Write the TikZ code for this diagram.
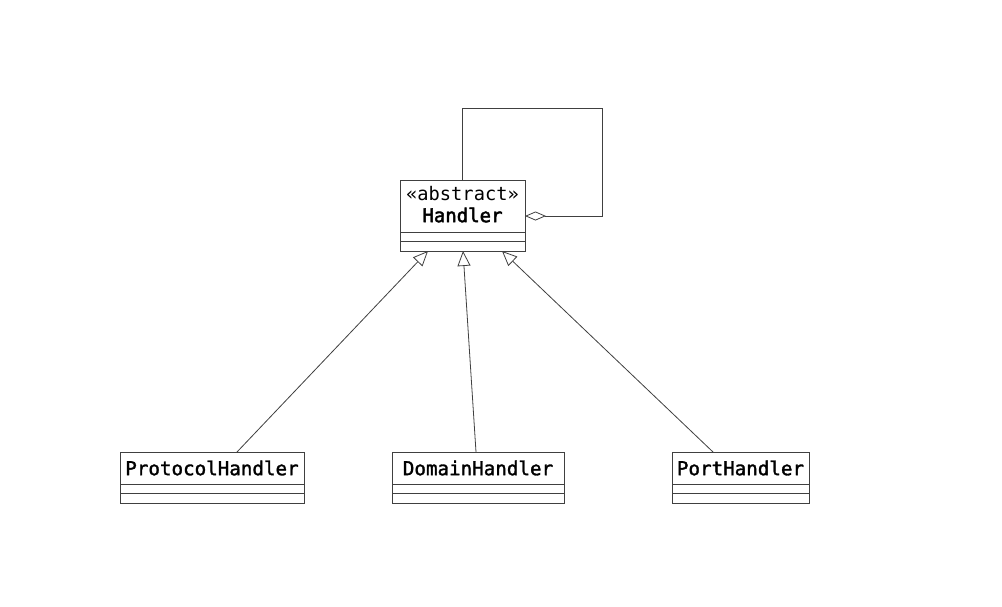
\documentclass[tikz,border=0pt]{standalone}
\usepackage{fontspec}
\setmonofont{DejaVu Sans Mono}
\newfontfamily\clsfont[FakeBold=1.6]{DejaVu Sans Mono}
\newfontfamily\clsfontheavy[FakeBold=2.4]{DejaVu Sans Mono}
\usetikzlibrary{arrows.meta}
\begin{document}
\begin{tikzpicture}[x=1pt,y=-1pt,
  umlline/.style={draw=black!75,line width=0.8pt},
  namebox/.style={umlline,rectangle,inner sep=0pt,outer sep=0pt,anchor=north west,
    font=\clsfont\fontsize{19.2}{21}\selectfont},
  compbox/.style={rectangle,inner sep=0pt,outer sep=0pt,anchor=north west},
  inherit/.style={umlline,-{Triangle[open,length=15pt,width=13pt]}},
  aggregate/.style={umlline,{Diamond[open,length=21pt,width=9pt]}-}]
\useasboundingbox (0,0) rectangle (1002,606);
\fill[white] (0,0) rectangle (1002,606);

% abstract base class
\node[namebox,minimum width=125pt,minimum height=52pt] (Hn) at (400,180) {};
\node[font=\ttfamily\fontsize{18.7}{20}\selectfont,inner sep=0pt] (Hst) at (462.5,194) {\guillemotleft abstract\guillemotright};
\node[font=\clsfontheavy\fontsize{19}{20}\selectfont,inner sep=0pt] (Hname) at (462.5,215) {Handler};
\node[compbox,minimum width=125pt,minimum height=9.5pt] (Ha) at (Hn.south west) {};
\node[compbox,minimum width=125pt,minimum height=9.5pt] (Hm) at (Ha.south west) {};
\draw[umlline] (Hn.south west) rectangle (Hm.south east) (Ha.south west) -- (Ha.south east);

% concrete handlers
\node[namebox,minimum width=184pt,minimum height=32pt] (Pn) at (120,452) {ProtocolHandler};
\node[compbox,minimum width=184pt,minimum height=9.5pt] (Pa) at (Pn.south west) {};
\node[compbox,minimum width=184pt,minimum height=9.5pt] (Pm) at (Pa.south west) {};
\draw[umlline] (Pn.south west) rectangle (Pm.south east) (Pa.south west) -- (Pa.south east);

\node[namebox,minimum width=172pt,minimum height=32pt] (Dn) at (392,452) {DomainHandler};
\node[compbox,minimum width=172pt,minimum height=9.5pt] (Da) at (Dn.south west) {};
\node[compbox,minimum width=172pt,minimum height=9.5pt] (Dm) at (Da.south west) {};
\draw[umlline] (Dn.south west) rectangle (Dm.south east) (Da.south west) -- (Da.south east);

\node[namebox,minimum width=137pt,minimum height=32pt] (On) at (672,452) {PortHandler};
\node[compbox,minimum width=137pt,minimum height=9.5pt] (Oa) at (On.south west) {};
\node[compbox,minimum width=137pt,minimum height=9.5pt] (Om) at (Oa.south west) {};
\draw[umlline] (On.south west) rectangle (Om.south east) (Oa.south west) -- (Oa.south east);

% generalisation
\draw[inherit] ([xshift=25pt]Pn.north) -- ([xshift=-34.5pt]Hm.south);
\draw[inherit] ([xshift=-2pt]Dn.north) -- ([xshift=0.5pt]Hm.south);
\draw[inherit] ([xshift=-27.5pt]On.north) -- ([xshift=39.5pt]Hm.south);

% successor aggregation (chain of responsibility)
\coordinate (loopTop) at (602,108);
\draw[aggregate] ([yshift=-10pt]Hn.east) -| (loopTop) -| (Hn.north);
\end{tikzpicture}
\end{document}
